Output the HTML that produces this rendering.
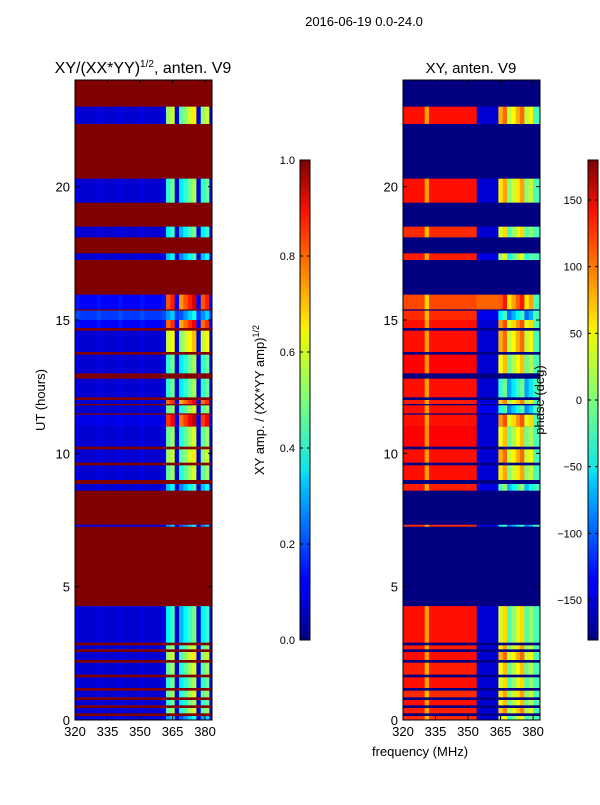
<!DOCTYPE html>
<html><head><meta charset="utf-8"><style>
body{margin:0;background:#fff;font-family:"Liberation Sans","DejaVu Sans",sans-serif}
svg text{font-family:"Liberation Sans","DejaVu Sans",sans-serif}
</style></head><body>
<svg id="fig" width="600" height="800" xmlns="http://www.w3.org/2000/svg">
<defs>
<linearGradient id="jetv" x1="0" y1="1" x2="0" y2="0">
<stop offset="0" stop-color="#00007f"/><stop offset="0.11" stop-color="#0000ff"/><stop offset="0.125" stop-color="#0000ff"/>
<stop offset="0.34" stop-color="#00d4ff"/><stop offset="0.35" stop-color="#0ae4f0"/><stop offset="0.5" stop-color="#7dff7a"/>
<stop offset="0.64" stop-color="#f0f900"/><stop offset="0.66" stop-color="#ffe600"/><stop offset="0.89" stop-color="#ff1300"/><stop offset="1" stop-color="#7f0000"/>
</linearGradient>
</defs>
<text x="364" y="26" font-size="13" text-anchor="middle">2016-06-19 0.0-24.0</text>
<g id="left"></g>
<g id="right"></g>
<text x="143" y="73" font-size="16" text-anchor="middle">XY/(XX*YY)<tspan font-size="10" dy="-6">1/2</tspan><tspan dy="6">, anten. V9</tspan></text>
<text x="471" y="73" font-size="15" text-anchor="middle">XY, anten. V9</text>
<text transform="translate(45,400) rotate(-90)" font-size="13" text-anchor="middle">UT (hours)</text>
<text x="420" y="756" font-size="13" text-anchor="middle">frequency (MHz)</text>
<text transform="translate(264,400) rotate(-90)" font-size="13" text-anchor="middle">XY amp. / (XX*YY amp)<tspan font-size="9" dy="-5">1/2</tspan></text>
<text transform="translate(544,400) rotate(-90)" font-size="13" text-anchor="middle">phase (deg)</text>
<rect x="300" y="160" width="10" height="480" fill="url(#jetv)" stroke="#000"/>
<rect x="588" y="160" width="10" height="480" fill="url(#jetv)" stroke="#000"/>
<g id="cb"></g>
</svg>
<script>
const bandStart=[22.35,19.4,18.1,17.25,15.4,15.0,14.7,13.8,13.0,12.1,11.85,11.5,11.0,10.25,9.65,9.0,8.6,7.25,2.9,2.65,2.25,1.7,1.2,0.85,0.55,0.25,0.0];
const bandEnd  =[23.0,20.3,18.5,17.5,15.95,15.35,15.0,14.6,13.7,12.8,12.0,11.8,11.45,11.0,10.15,9.55,8.85,7.32,4.27,2.8,2.55,2.15,1.6,1.1,0.75,0.45,0.15];
const ampLow   =[0.08,0.08,0.08,0.08,0.12,0.18,0.12,0.08,0.08,0.08,0.08,0.08,0.1,0.08,0.08,0.08,0.08,0.1,0.08,0.08,0.08,0.08,0.08,0.08,0.08,0.08,0.08];
const ampHigh  =[0.55,0.45,0.4,0.35,0.82,0.3,0.8,0.6,0.45,0.45,0.8,0.5,0.85,0.5,0.55,0.5,0.35,0.3,0.4,0.5,0.55,0.5,0.45,0.5,0.45,0.5,0.3];
const phaseLow =[130,130,120,125,110,120,130,130,135,130,125,130,130,135,130,130,125,120,130,125,130,125,130,120,130,125,120];
const phaseMid =[-150,-150,-150,-145,100,-140,-150,-150,-150,-150,-145,-140,-150,-150,-150,-150,-145,-150,-150,-150,-150,-150,-150,-150,-150,-150,-150];
const phaseHigh=[60,40,20,0,90,-60,70,60,30,-40,50,-50,70,30,60,40,-30,-60,20,40,60,30,20,40,30,50,10];
const freqBins=[320,322,324,326,328,330,332,334,336,338,340,342,344,346,348,350,352,354,356,358,360,362,364,366,368,370,372,374,376,378,380,382];
const ampTicks=[0.0,0.2,0.4,0.6,0.8,1.0];
const phaseTicks=[-150,-100,-50,0,50,100,150];
const xTicks=[320,335,350,365,380];
const yTicks=[0,5,10,15,20];
const NS="http://www.w3.org/2000/svg";
function jet(t){t=Math.max(0,Math.min(1,t));
 const r=Math.max(0,Math.min(1,1.5-Math.abs(4*t-3))),g=Math.max(0,Math.min(1,1.5-Math.abs(4*t-2))),b=Math.max(0,Math.min(1,1.5-Math.abs(4*t-1)));
 return `rgb(${Math.round(r*255)},${Math.round(g*255)},${Math.round(b*255)})`;}
const X0=[75,403],W=137,Y0=80,H=640,FMIN=320,FMAX=383.2,HMAX=24;
function xs(p,f){return X0[p]+(f-FMIN)/(FMAX-FMIN)*W;}
function ys(h){return Y0+H-h/HMAX*H;}
function mk(tag,attrs,parent){const e=document.createElementNS(NS,tag);for(const k in attrs)e.setAttribute(k,attrs[k]);parent.appendChild(e);return e;}
function isGap(f){return f>=362 && (f%5===1);}
function drawPanel(p){
 const g=document.getElementById(p?'right':'left');
 const bg=mk('rect',{x:X0[p],y:Y0,width:W,height:H,fill:p?jet(0):jet(1)},g);
 
 
 for(let i=0;i<bandStart.length;i++){
  for(const f of freqBins){
   let v;
   if(p===0){v=(f>=362&&f<382&&!isGap(f))?ampHigh[i]+((f%8)/2-1.5)*0.06:ampLow[i]+(f%10===0?0.02:0);}
   else{let ph=f<354?phaseLow[i]+(f===330?-50:0):(f<364?phaseMid[i]:(f>=380?-20:phaseHigh[i]+((f%8)/2-1.5)*25));v=(ph+180)/360;}
   const c=mk('rect',{x:xs(p,f),y:ys(bandEnd[i]),width:xs(p,Math.min(f+2,FMAX))-xs(p,f)+0.3,height:ys(bandStart[i])-ys(bandEnd[i]),fill:jet(v)},g);
   
   
  }
 }
 const fr=mk('rect',{x:X0[p],y:Y0,width:W,height:H,fill:'none',stroke:'#000'},g);
 
 
 for(const t of xTicks){const x=xs(p,t);
  mk('line',{x1:x,x2:x,y1:Y0+H,y2:Y0+H-4,stroke:'#000'},g);mk('line',{x1:x,x2:x,y1:Y0,y2:Y0+4,stroke:'#000'},g);
  const tx=mk('text',{x:x,y:Y0+H+16,'font-size':13,'text-anchor':'middle'},g);tx.textContent=t;
  
  }
 for(const t of yTicks){const y=ys(t);
  mk('line',{x1:X0[p],x2:X0[p]+4,y1:y,y2:y,stroke:'#000'},g);mk('line',{x1:X0[p]+W,x2:X0[p]+W-4,y1:y,y2:y,stroke:'#000'},g);
  const tx=mk('text',{x:X0[p]-5,y:y+5,'font-size':13,'text-anchor':'end'},g);tx.textContent=t;
  
  }
}
drawPanel(0);drawPanel(1);
const cb=document.getElementById('cb');
for(const t of ampTicks){const y=640-t*480;
 mk('line',{x1:300,x2:303,y1:y,y2:y,stroke:'#000'},cb);mk('line',{x1:307,x2:310,y1:y,y2:y,stroke:'#000'},cb);
 const tx=mk('text',{x:295,y:y+4,'font-size':11,'text-anchor':'end'},cb);tx.textContent=t.toFixed(1);
 
 }
for(const t of phaseTicks){const y=400-t*480/360;
 mk('line',{x1:588,x2:591,y1:y,y2:y,stroke:'#000'},cb);mk('line',{x1:595,x2:598,y1:y,y2:y,stroke:'#000'},cb);
 const tx=mk('text',{x:582,y:y+4,'font-size':11,'text-anchor':'end'},cb);tx.textContent=(t<0?'\u2212'+(-t):t);
 
 }
</script>
</body></html>
